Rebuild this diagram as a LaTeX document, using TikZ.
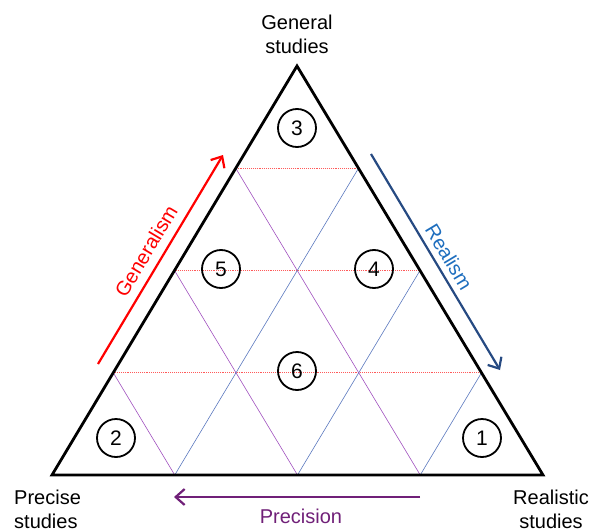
\documentclass[tikz,border=0pt]{standalone}
\usepackage{fontspec}
\setmainfont{Liberation Sans}
\usetikzlibrary{calc,arrows.meta}
\definecolor{genred}{RGB}{255,0,0}
\definecolor{realarrow}{RGB}{38,74,130}
\definecolor{realtext}{RGB}{30,110,190}
\definecolor{precpurple}{RGB}{112,32,120}
\definecolor{gridred}{RGB}{255,90,90}
\definecolor{gridblue}{RGB}{90,120,190}
\definecolor{gridpurple}{RGB}{160,80,190}
\tikzset{
  numcirc/.style={circle,draw,line width=1.8pt,minimum size=38pt,inner sep=0pt,font=\fontsize{21}{24}\selectfont},
  lbl/.style={font=\fontsize{20}{24}\selectfont,inner sep=0pt},
  gridh/.style={gridred,line width=0.9pt,densely dotted},
  gridp/.style={gridpurple,line width=0.6pt},
  gridb/.style={gridblue,line width=0.6pt},
  bigarrow/.style={line width=2.2pt,-{Straight Barb[length=9pt,width=16pt,line width=2.2pt]}}
}
\begin{document}
\begin{tikzpicture}[x=1pt,y=-1pt]
\useasboundingbox (0,0) rectangle (600,530);
\coordinate (A) at (52,475);
\coordinate (B) at (543,475);
\coordinate (C) at (297,66);
% grid
\foreach \t in {0.25,0.5,0.75}{
  \draw[gridh] ($(A)!\t!(C)$) -- ($(B)!\t!(C)$);
  \draw[gridp] ($(A)!\t!(C)$) -- ($(A)!\t!(B)$);
  \draw[gridb] ($(B)!\t!(C)$) -- ($(B)!\t!(A)$);
}
% triangle
\draw[line width=2.8pt,line join=miter] (A) -- (B) -- (C) -- cycle;
% circles
\node[numcirc] (n3) at (297,128) {3};
\node[numcirc] (n5) at (221,269) {5};
\node[numcirc] (n4) at (374,269) {4};
\node[numcirc] (n6) at (297,371) {6};
\node[numcirc] (n2) at (116,438) {2};
\node[numcirc] (n1) at (482,438) {1};
% vertex labels
\node[lbl,align=center] (gen) at (297,34) {General\\studies};
\node[lbl,align=left,anchor=west] (pre) at (14,509) {Precise\\studies};
\node[lbl,align=center] (rea) at (551,509) {Realistic\\studies};
% arrows
\coordinate (g1) at (98,364);
\coordinate (g2) at (223,155);
\coordinate (r1) at (371,154);
\coordinate (r2) at (500,370);
\coordinate (p1) at (420,497);
\coordinate (p2) at (174,497);
\draw[bigarrow,genred] (g1) -- (g2);
\draw[bigarrow,realarrow] (r1) -- (r2);
\draw[bigarrow,precpurple] (p1) -- (p2);
\node[lbl,text=genred,rotate=59] (genl) at (146,251) {Generalism};
\node[lbl,text=realtext,rotate=-59] (real) at (449,257) {Realism};
\node[lbl,text=precpurple] (prec) at (301,516) {Precision};
\end{tikzpicture}
\end{document}
